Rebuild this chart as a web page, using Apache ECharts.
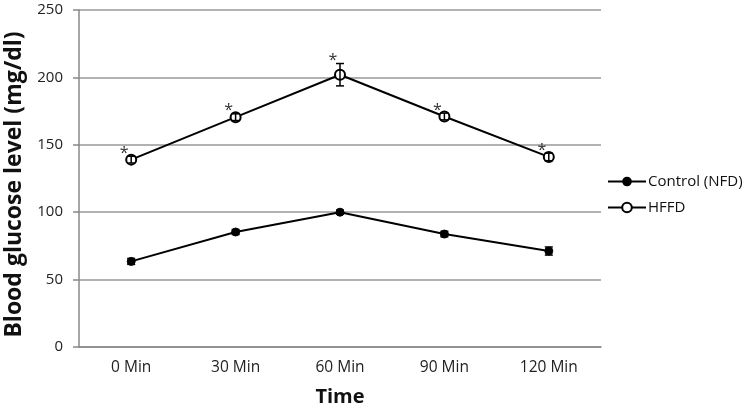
<!DOCTYPE html>
<html><head><meta charset="utf-8">
<script src="https://cdn.jsdelivr.net/npm/echarts@6/dist/echarts.min.js"></script>
<style>html,body{margin:0;padding:0;background:#fff}#c{width:747px;height:408px}</style>
</head><body><div id="c"></div>
<script>
const categories = ['0 Min', '30 Min', '60 Min', '90 Min', '120 Min'];
const controlValues = [63.5, 85.3, 100, 83.8, 71.2];
const controlErrors = [2.2, 1.8, 1.5, 2, 3];
const hffdValues = [139, 170.5, 202, 171, 141];
const hffdErrors = [2.5, 2.5, 8.3, 2.5, 2.8];
const significance = ['*', '*', '*', '*', '*'];
const yTicks = { min: 0, max: 250, interval: 50 };

const chart = echarts.init(document.getElementById('c'), null, { renderer: 'canvas' });

function errorSeries(name, values, errors, marks) {
  return {
    type: 'custom',
    name: name + ' err',
    z: 5,
    silent: true,
    data: values.map((v, i) => [i, v, errors[i]]),
    renderItem: function (params, api) {
      const i = api.value(0), v = api.value(1), e = api.value(2);
      const top = api.coord([i, v + e]);
      const bot = api.coord([i, v - e]);
      const cap = 4;
      const children = [
        { type: 'line', shape: { x1: top[0], y1: top[1], x2: bot[0], y2: bot[1] }, style: { stroke: '#000', lineWidth: 1.5 } },
        { type: 'line', shape: { x1: top[0] - cap, y1: top[1], x2: top[0] + cap, y2: top[1] }, style: { stroke: '#000', lineWidth: 1.5 } },
        { type: 'line', shape: { x1: bot[0] - cap, y1: bot[1], x2: bot[0] + cap, y2: bot[1] }, style: { stroke: '#000', lineWidth: 1.5 } }
      ];
      if (marks) {
        children.push({ type: 'text', style: { text: marks[params.dataIndex], x: top[0] - 7, y: top[1] - 3, font: '16px "Open Sans", sans-serif', fill: '#333', align: 'center', verticalAlign: 'middle' } });
      }
      return { type: 'group', children: children };
    }
  };
}

chart.setOption({
  animation: false,
  backgroundColor: '#fff',
  grid: { left: 79, right: 146, top: 10, bottom: 61, containLabel: false, outerBoundsMode: 'none' },
  legend: {
    orient: 'vertical',
    left: 602, top: 169,
    itemWidth: 38, itemHeight: 12, itemGap: 11,
    textStyle: { fontFamily: 'Open Sans', fontSize: 15, color: '#111', padding: [0, 0, 0, -3] },
    data: ['Control (NFD)', 'HFFD']
  },
  xAxis: {
    type: 'category',
    data: categories,
    boundaryGap: true,
    name: 'Time',
    nameLocation: 'middle',
    nameGap: 40,
    nameTextStyle: { fontFamily: 'Open Sans', fontWeight: 'bold', fontSize: 20, color: '#111' },
    axisLine: { lineStyle: { color: '#888', width: 1.5 } },
    axisTick: { alignWithLabel: true, length: 5, lineStyle: { color: '#888', width: 1.5 } },
    axisLabel: { fontFamily: 'Open Sans', fontSize: 15.5, color: '#222', margin: 13 }
  },
  yAxis: {
    type: 'value',
    min: yTicks.min, max: yTicks.max, interval: yTicks.interval,
    name: 'Blood glucose level (mg/dl)',
    nameLocation: 'middle',
    nameGap: 44,
    nameTextStyle: { fontFamily: 'Open Sans', fontWeight: 'bold', fontSize: 23, color: '#111', padding: [0, 12, 0, 0] },
    axisLine: { show: true, lineStyle: { color: '#888', width: 1.5 } },
    axisTick: { show: true, length: 6, lineStyle: { color: '#888', width: 1.5 } },
    axisLabel: { fontFamily: 'Open Sans', fontSize: 15, color: '#222', margin: 16 },
    splitLine: { lineStyle: { color: '#999', width: 1.5 } }
  },
  series: [
    {
      name: 'Control (NFD)', type: 'line', data: controlValues,
      symbol: 'circle', symbolSize: 8,
      lineStyle: { color: '#000', width: 2 },
      itemStyle: { color: '#000', borderColor: '#000' }, z: 3
    },
    {
      name: 'HFFD', type: 'line', data: hffdValues,
      symbol: 'emptyCircle', symbolSize: 10,
      lineStyle: { color: '#000', width: 2 },
      itemStyle: { color: '#000', borderColor: '#000', borderWidth: 1.5 }, z: 3
    },
    errorSeries('Control (NFD)', controlValues, controlErrors, null),
    errorSeries('HFFD', hffdValues, hffdErrors, significance)
  ]
});
</script></body></html>
